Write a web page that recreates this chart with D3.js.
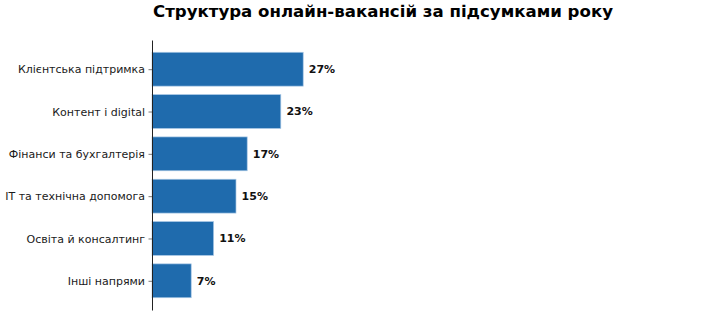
<!DOCTYPE html>
<html>
<head>
<meta charset="utf-8">
<script src="https://cdn.jsdelivr.net/npm/d3@7"></script>
<style>
  body { margin: 0; background: #fff; }
  text { font-family: "DejaVu Sans", sans-serif; }
</style>
</head>
<body>
<div id="chart"></div>
<script>
// ---- data ----
var categories = ["Клієнтська підтримка", "Контент і digital", "Фінанси та бухгалтерія",
                  "IT та технічна допомога", "Освіта й консалтинг", "Інші напрями"];
var shares = [27, 23, 17, 15, 11, 7];
var title = "Структура онлайн-вакансій за підсумками року";

(function() {
    var width = 714, height = 316;
    var left = 152, right = 614, top = 40, bottom = 310;

    var svg = d3.select("#chart").append("svg")
        .attr("width", width)
        .attr("height", height);

    var x = d3.scaleLinear().domain([0, 82.5]).range([left, right]);

    // matplotlib-like limits: bars of height 0.8, 5% margin
    var y = d3.scaleLinear().domain([-0.69, categories.length - 1 + 0.69]).range([top, bottom]);
    var barH = y(0.8) - y(0);

    svg.append("text")
        .attr("x", (left + right) / 2)
        .attr("y", 17)
        .attr("text-anchor", "middle")
        .style("font-weight", "bold")
        .style("font-size", "16.6px")
        .text(title);

    svg.selectAll(".bar")
        .data(shares)
        .enter().append("rect")
        .attr("class", "bar")
        .attr("x", x(0))
        .attr("y", function(d, i) { return y(i) - barH / 2; })
        .attr("width", function(d) { return x(d) - x(0); })
        .attr("height", barH)
        .attr("fill", "#1f6bad")
        .attr("stroke", "#a9c8e6")
        .attr("stroke-width", 0.7);

    svg.selectAll(".val")
        .data(shares)
        .enter().append("text")
        .attr("class", "val")
        .attr("x", function(d) { return x(d + 1); })
        .attr("y", function(d, i) { return y(i); })
        .attr("dy", "0.36em")
        .style("font-weight", "bold")
        .style("font-size", "11px")
        .style("fill", "#111")
        .text(function(d) { return d + "%"; });

    // y axis (left spine + ticks)
    var yAxis = svg.append("g")
        .attr("transform", "translate(" + left + ",0)")
        .call(d3.axisLeft(y).tickValues(d3.range(categories.length))
            .tickFormat(function(i) { return categories[i]; })
            .tickSize(3.5).tickPadding(3.5).tickSizeOuter(0));
    yAxis.select(".domain").attr("stroke", "#222").attr("stroke-width", 1);
    yAxis.selectAll(".tick line").attr("stroke", "#555").attr("stroke-width", 0.8);
    yAxis.selectAll(".tick text")
        .style("font-size", "11px")
        .style("font-family", "DejaVu Sans, sans-serif")
        .attr("fill", "#1a1a1a");
})();
</script>
</body>
</html>
